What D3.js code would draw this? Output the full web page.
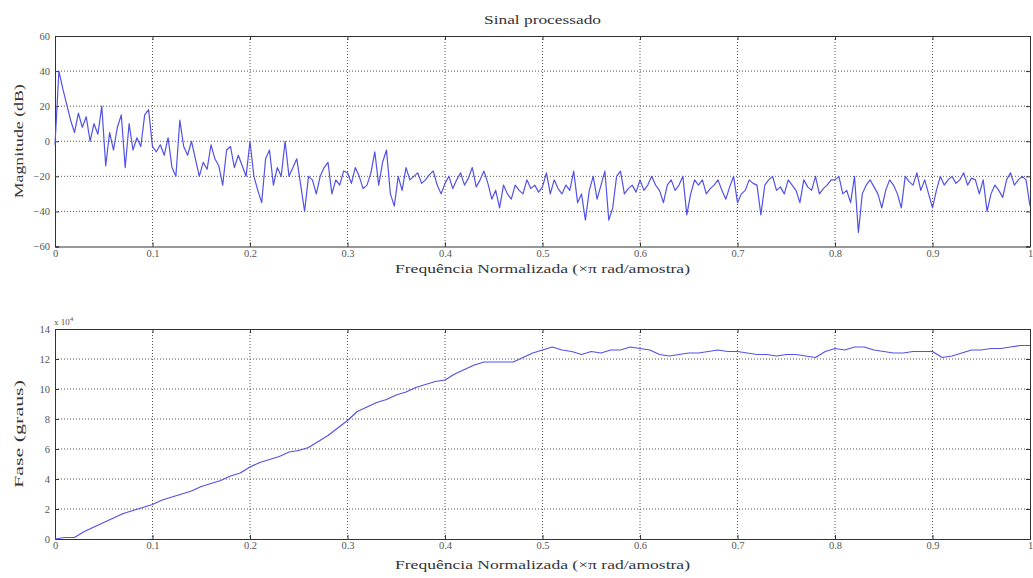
<!DOCTYPE html>
<html>
<head>
<meta charset="utf-8">
<script src="https://cdn.jsdelivr.net/npm/d3@7"></script>
<style>
  body { margin: 0; background: #fff; }
  text { font-family: "Liberation Serif", "DejaVu Serif", serif; }
</style>
</head>
<body>
<div id="chart"></div>
<script>
var width = 1033;
var height = 578;

// magnitude (dB), one value every 0.004 of normalized frequency
var magStep = 0.004;
var magnitude = [
  -2, 40, 30, 21, 12, 5, 16, 8, 14, 0, 10, 4, 20, -14, 5, -5, 8, 15, -15, 10, -5, 2, -3, 15, 18,
  -3, -6, -2, -8, 2, -15, -20, 12, -3, -8, 0, -10, -20, -12, -16, -2, -10, -14, -25, -5, -3, -15, -8, -14, -20,
  0, -20, -28, -35, -10, -5, -25, -15, -20, 0, -20, -15, -10, -25, -40, -20, -22, -30, -20, -15, -12, -30, -22, -25, -17,
  -18, -24, -15, -20, -27, -25, -18, -6, -25, -12, -5, -30, -37, -20, -28, -15, -22, -20, -18, -24, -22, -19, -17, -25, -30,
  -24, -20, -27, -22, -18, -25, -21, -15, -26, -22, -17, -24, -33, -28, -38, -25, -30, -33, -25, -28, -30, -22, -27, -25, -29,
  -26, -18, -30, -22, -27, -30, -25, -28, -17, -35, -30, -45, -28, -20, -33, -25, -17, -45, -38, -20, -17, -30, -27, -25, -29,
  -22, -28, -25, -20, -25, -28, -35, -25, -22, -28, -25, -20, -42, -30, -22, -25, -22, -30, -27, -25, -22, -28, -33, -26, -20,
  -35, -30, -28, -22, -24, -25, -42, -25, -22, -20, -28, -26, -30, -22, -25, -28, -35, -22, -26, -28, -20, -30, -27, -25, -22,
  -22, -20, -30, -28, -35, -20, -52, -30, -25, -22, -26, -30, -38, -28, -22, -25, -30, -38, -20, -23, -25, -18, -28, -22, -30,
  -38, -28, -20, -25, -22, -20, -24, -22, -18, -25, -21, -22, -30, -22, -40, -30, -25, -28, -32, -22, -18, -25, -22, -20, -22,
  -37
];

// phase (x 10^4 degrees), one value every 0.01
var phaseStep = 0.01;
var phase = [
  0, 0.1, 0.1, 0.5, 0.8, 1.1, 1.4, 1.7, 1.9, 2.1,
  2.3, 2.6, 2.8, 3.0, 3.2, 3.5, 3.7, 3.9, 4.2, 4.4,
  4.8, 5.1, 5.3, 5.5, 5.8, 5.9, 6.1, 6.5, 6.9, 7.4,
  7.9, 8.5, 8.8, 9.1, 9.3, 9.6, 9.8, 10.1, 10.3, 10.5,
  10.6, 11.0, 11.3, 11.6, 11.8, 11.8, 11.8, 11.8, 12.1, 12.4,
  12.6, 12.8, 12.6, 12.5, 12.3, 12.5, 12.4, 12.6, 12.6, 12.8,
  12.7, 12.6, 12.3, 12.2, 12.3, 12.4, 12.4, 12.5, 12.6, 12.5,
  12.5, 12.4, 12.3, 12.3, 12.2, 12.3, 12.3, 12.2, 12.1, 12.5,
  12.7, 12.6, 12.8, 12.8, 12.6, 12.5, 12.4, 12.4, 12.5, 12.5,
  12.5, 12.1, 12.2, 12.4, 12.6, 12.6, 12.7, 12.7, 12.8, 12.9,
  12.9
];

var xTicks = [0, 0.1, 0.2, 0.3, 0.4, 0.5, 0.6, 0.7, 0.8, 0.9, 1];
var magTicks = [-60, -40, -20, 0, 20, 40, 60];
var phaseTicks = [0, 2, 4, 6, 8, 10, 12, 14];

var title = "Sinal processado";
var xLabel = "Frequência Normalizada  (×π rad/amostra)";

const svg = d3.select("#chart")
  .append("svg")
  .attr("width", width)
  .attr("height", height)
  .attr("viewBox", [0, 0, width, height]);

var x = d3.scaleLinear().domain([0, 1]).range([55, 1030]);

// the lettering in the picture runs wide, so stretch it to the measured length
function label(sel, str, len, size) {
  return sel.append("text")
    .attr("text-anchor", "middle")
    .attr("font-size", size || 12.5)
    .attr("fill", "#333")
    .attr("textLength", len)
    .attr("lengthAdjust", "spacingAndGlyphs")
    .text(str);
}

function drawPanel(top, bottom, yDomain, yTicks, values, step, yLabel, yLabelLen, yLabelSize, xLabelGap) {
  var y = d3.scaleLinear().domain(yDomain).range([bottom, top]);
  var g = svg.append("g");

  // grid
  g.append("g")
    .selectAll("line")
    .data(xTicks.slice(1, -1))
    .join("line")
    .attr("x1", d => x(d)).attr("x2", d => x(d))
    .attr("y1", top).attr("y2", bottom)
    .attr("stroke", "#444").attr("stroke-width", 0.9)
    .attr("stroke-dasharray", "1,2");
  g.append("g")
    .selectAll("line")
    .data(yTicks.slice(1, -1))
    .join("line")
    .attr("x1", x(0)).attr("x2", x(1))
    .attr("y1", d => y(d)).attr("y2", d => y(d))
    .attr("stroke", "#444").attr("stroke-width", 0.9)
    .attr("stroke-dasharray", "1,2");

  // axes with inward ticks
  var axB = d3.axisBottom(x).tickValues(xTicks).tickSize(-4).tickPadding(3).tickFormat(d3.format("~g"));
  var axT = d3.axisTop(x).tickValues(xTicks).tickSize(-4).tickFormat("");
  var axL = d3.axisLeft(y).tickValues(yTicks).tickSize(-4).tickPadding(5).tickFormat(d3.format("~g"));
  var axR = d3.axisRight(y).tickValues(yTicks).tickSize(-4).tickFormat("");
  g.append("g").attr("transform", `translate(0,${bottom})`).call(axB);
  g.append("g").attr("transform", `translate(0,${top})`).call(axT);
  g.append("g").attr("transform", `translate(${x(0)},0)`).call(axL);
  g.append("g").attr("transform", `translate(${x(1)},0)`).call(axR);
  g.selectAll(".domain").attr("stroke", "#333");
  g.selectAll(".tick line").attr("stroke", "#333");
  g.selectAll(".tick text")
    .attr("font-family", "Liberation Serif, serif")
    .attr("font-size", 10.5)
    .attr("fill", "#555");

  // data line
  const line = d3.line()
    .x((d, i) => x(i * step))
    .y(d => y(d));
  g.append("path")
    .attr("d", line(values))
    .attr("fill", "none")
    .attr("stroke", "#5252e6")
    .attr("stroke-width", 1.2)
    .attr("stroke-linejoin", "round");

  // labels
  label(g, xLabel, 295)
    .attr("x", (x(0) + x(1)) / 2)
    .attr("y", bottom + xLabelGap);
  label(g, yLabel, yLabelLen, yLabelSize)
    .attr("transform", `translate(23,${(top + bottom) / 2}) rotate(-90)`);
  return y;
}

drawPanel(36, 246.5, [-60, 60], magTicks, magnitude, magStep, "Magnitude (dB)", 114, 12.5, 26);
drawPanel(329, 539, [0, 14], phaseTicks, phase, phaseStep, "Fase (graus)", 108, 13.5, 30);

label(svg, title, 117)
  .attr("x", (x(0) + x(1)) / 2)
  .attr("y", 24);

// exponent label of the phase axis
var expo = svg.append("text")
  .attr("x", 54)
  .attr("y", 325)
  .attr("font-size", 9)
  .attr("fill", "#555");
expo.append("tspan").text("x 10");
expo.append("tspan").attr("dy", -4).attr("font-size", 7).text("4");
</script>
</body>
</html>
